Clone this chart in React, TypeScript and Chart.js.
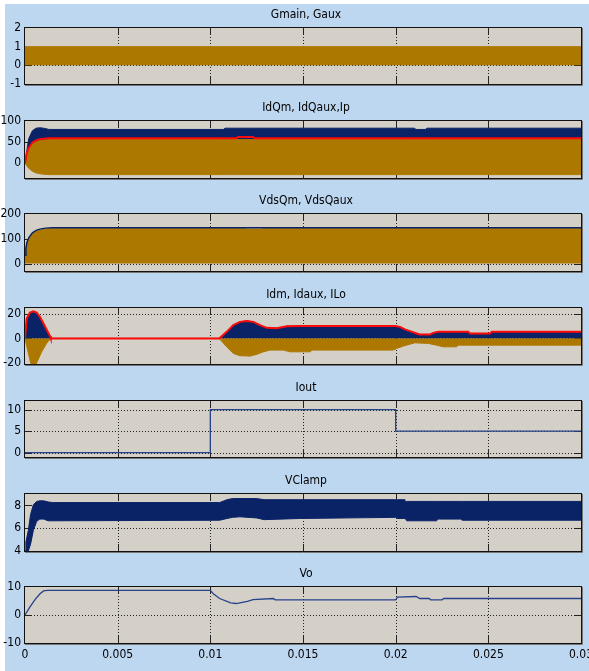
import React, { useEffect, useRef } from 'react';
import { Chart, registerables } from 'chart.js';
Chart.register(...registerables);

// ---------------- data ----------------
const xTicks = [0, 0.005, 0.01, 0.015, 0.02, 0.025, 0.03];
const xTickLabels = ['0', '0.005', '0.01', '0.015', '0.02', '0.025', '0.03'];
const panelTitles = ['Gmain, Gaux', 'IdQm, IdQaux,Ip', 'VdsQm, VdsQaux', 'Idm, Idaux, ILo', 'Iout', 'VClamp', 'Vo'];

// y tick labels per panel
const gTicks = [-1, 0, 1, 2];
const idqTicks = [0, 50, 100];
const vdsTicks = [0, 100, 200];
const idTicks = [-20, 0, 20];
const ioutTicks = [0, 5, 10];
const vclampTicks = [4, 6, 8];
const voTicks = [-10, 0, 10];

// Gmain, Gaux (switching band envelope)
const tG = [0, 0.03];
const gUpper = [1, 1];

// IdQm, IdQaux, Ip
const tIdq = [0, 0.0001, 0.0002, 0.0004, 0.0006, 0.0008, 0.001, 0.0013, 0.0107, 0.0108, 0.0114, 0.0115, 0.0123, 0.0124, 0.021, 0.0211, 0.0216, 0.0217, 0.03];
const idqmTop = [0, 30, 58, 77, 83, 84, 83, 80, 80, 83, 83, 83, 83, 83, 83, 80, 80, 83, 83];
const ipLine = [0, 25, 36, 49, 54, 57, 58, 59, 59, 59, 59, 62, 62, 59, 59, 59, 59, 59, 59];
const idqauxTop = [0, 22, 33, 46, 51, 54, 55, 56, 56, 56, 56, 56, 56, 56, 56, 56, 56, 56, 56];
const idqauxBot = [0, -6, -12, -19, -23, -25, -26, -27, -27, -27, -27, -27, -27, -27, -27, -27, -27, -27, -27];

// VdsQm, VdsQaux
const tVds = [0, 0.00005, 0.0001, 0.0002, 0.0004, 0.0006, 0.0008, 0.0011, 0.0015, 0.0119, 0.01191, 0.0128, 0.01281, 0.03];
const vdsQm = [34, 62, 84, 104, 124, 134, 139, 143, 145, 145, 145, 145, 145, 145];
const vdsQauxTop = [30, 58, 80, 100, 120, 130, 135, 139, 142, 142, 139, 139, 142, 142];

// Idm, Idaux, ILo
const tIdm = [0, 0.00009, 0.00027, 0.00045, 0.00063, 0.00081, 0.00099, 0.00117, 0.00135, 0.00139, 0.01048, 0.01088, 0.01124, 0.0116, 0.01196, 0.01232, 0.01268, 0.01304, 0.01358, 0.01412, 0.01484, 0.01996, 0.02023, 0.0205, 0.02077, 0.02114, 0.02131, 0.02185, 0.02203, 0.0223, 0.02392, 0.02401, 0.02509, 0.02518, 0.03];
const idmTop = [0, 16.3, 21.2, 22.3, 21.2, 17.6, 12.4, 7.1, 1.9, 0, 0, 5.4, 10.9, 13.6, 14.4, 13.6, 10.9, 8.7, 8.4, 10, 10.3, 10.3, 9.5, 7.4, 6, 4.1, 3.3, 3.3, 4.6, 5.4, 5.4, 4.1, 4.1, 5.4, 5.4];
const iLo = idmTop;
const tIdaux = [0, 0.00009, 0.00018, 0.0003, 0.00045, 0.0006, 0.00075, 0.0009, 0.00117, 0.00135, 0.00139, 0.01048, 0.01088, 0.01124, 0.0116, 0.01214, 0.0125, 0.01286, 0.01322, 0.01394, 0.0143, 0.0154, 0.01547, 0.01987, 0.02005, 0.02041, 0.02077, 0.02104, 0.02176, 0.0222, 0.02257, 0.02329, 0.02338, 0.03];
const idauxBot = [0, -6, -12, -20, -24, -21, -16, -11, -4, -0.5, 0, 0, -6.9, -12.3, -14.2, -14.5, -13.1, -11, -9.6, -9.6, -11, -11, -9.6, -9.6, -8.2, -6.3, -4.7, -3.6, -4.1, -5.5, -6.9, -6.9, -5.5, -5.5];

// Iout
const tIout = [0, 0.01, 0.01, 0.02, 0.02, 0.03];
const iout = [0, 0, 10, 10, 5, 5];

// VClamp (ripple band envelope)
const tVc = [0, 0.00005, 0.00018, 0.0003, 0.00045, 0.00063, 0.0008, 0.001, 0.00126, 0.0015, 0.0105, 0.0109, 0.0112, 0.0116, 0.0125, 0.0129, 0.0148, 0.02, 0.0201, 0.0205, 0.02051, 0.0206, 0.0222, 0.0223, 0.0235, 0.0236, 0.03];
const vcTop = [4, 4.8, 5.8, 7.2, 8.05, 8.35, 8.4, 8.4, 8.3, 8.25, 8.25, 8.5, 8.6, 8.6, 8.6, 8.5, 8.5, 8.5, 8.5, 8.5, 8.35, 8.35, 8.35, 8.35, 8.35, 8.35, 8.35];
const vcBot = [4, 4, 4, 4.6, 5.8, 6.6, 6.8, 6.8, 6.65, 6.65, 6.7, 6.85, 6.95, 7.0, 6.9, 6.75, 6.85, 6.95, 6.85, 6.85, 6.85, 6.65, 6.65, 6.8, 6.8, 6.7, 6.7];

// Vo
const tVo = [0, 0.00027, 0.00054, 0.00081, 0.001, 0.0012, 0.01, 0.01016, 0.0105, 0.0111, 0.0114, 0.012, 0.0123, 0.0134, 0.0135, 0.02, 0.0201, 0.0211, 0.0213, 0.0218, 0.0219, 0.0225, 0.0226, 0.03];
const vo = [0, 2.9, 5.5, 7.6, 8.6, 8.8, 8.8, 7.6, 5.9, 4.3, 4.1, 4.9, 5.5, 5.9, 5.4, 5.4, 6.4, 6.6, 5.9, 5.9, 5.4, 5.4, 5.9, 5.9];

// ---------------- styles ----------------
const BROWN = '#ad7800';
const NAVY = '#0a2366';
const RED = '#ff0a0a';
const LINE_BLUE = '#26428a';
const PLOT_BG = '#d4d0c8';
const OUTER = '#bdd7f1';
const FONT = "'Liberation Sans Narrow', 'DejaVu Sans Condensed', 'Liberation Sans', sans-serif";
const W = 589;
const H = 671;

const pts = (t: number[], v: number[]) => t.map((x, i) => ({ x, y: v[i] }));
const fillDs = (t: number[], v: number[], color: string, fill: any) => ({
  data: pts(t, v), borderColor: color, backgroundColor: color, borderWidth: 1, fill, pointRadius: 0, tension: 0,
});
const lineDs = (t: number[], v: number[], color: string, width: number) => ({
  data: pts(t, v), borderColor: color, backgroundColor: color, borderWidth: width, fill: false, pointRadius: 0, tension: 0,
});

const panels = [
  { title: panelTitles[0], top: 28, bottom: 84, yMin: -1, yMax: 2, yTicks: gTicks,
    datasets: () => [fillDs(tG, gUpper, BROWN, 'origin')] },
  { title: panelTitles[1], top: 121, bottom: 178, yMin: -35, yMax: 100, yTicks: idqTicks,
    datasets: () => [lineDs(tIdq, ipLine, RED, 2), fillDs(tIdq, idqauxTop, BROWN, '+1'), fillDs(tIdq, idqauxBot, BROWN, false), fillDs(tIdq, idqmTop, NAVY, 'origin')] },
  { title: panelTitles[2], top: 214, bottom: 271, yMin: -30, yMax: 200, yTicks: vdsTicks,
    datasets: () => [lineDs(tVds, vdsQm, NAVY, 1.5), fillDs(tVds, vdsQauxTop, BROWN, 'origin')] },
  { title: panelTitles[3], top: 308, bottom: 364, yMin: -21, yMax: 25, yTicks: idTicks,
    datasets: () => [lineDs(tIdm, iLo, RED, 2), fillDs(tIdaux, idauxBot, BROWN, 'origin'), fillDs(tIdm, idmTop, NAVY, 'origin')] },
  { title: panelTitles[4], top: 401, bottom: 457, yMin: -1, yMax: 12, yTicks: ioutTicks,
    datasets: () => [lineDs(tIout, iout, LINE_BLUE, 1.3)] },
  { title: panelTitles[5], top: 494, bottom: 551, yMin: 4, yMax: 9, yTicks: vclampTicks,
    datasets: () => [fillDs(tVc, vcTop, NAVY, '+1'), fillDs(tVc, vcBot, NAVY, false)] },
  { title: panelTitles[6], top: 587, bottom: 643, yMin: -10, yMax: 10, yTicks: voTicks,
    datasets: () => [lineDs(tVo, vo, LINE_BLUE, 1.3)] },
];

const TICK_LEN = 7;

const scopePlugin = {
  id: 'scope',
  beforeDraw(chart: any) {
    const { ctx, chartArea: a } = chart;
    ctx.save();
    ctx.fillStyle = PLOT_BG;
    ctx.fillRect(a.left, a.top, a.right - a.left, a.bottom - a.top);
    ctx.restore();
  },
  beforeDatasetsDraw(chart: any, _args: any, opts: any) {
    const { ctx, chartArea: a, scales } = chart;
    const x = scales.x, y = scales.y;
    ctx.save();
    ctx.strokeStyle = '#222';
    ctx.lineWidth = 1;
    const seg = (x1: number, y1: number, x2: number, y2: number) => {
      ctx.beginPath(); ctx.moveTo(x1, y1); ctx.lineTo(x2, y2); ctx.stroke();
    };
    const xs = xTicks.map((v) => Math.round(x.getPixelForValue(v)) + 0.5).filter((p) => p > a.left + 1 && p < a.right - 1);
    const ys = (opts.yTicks as number[]).map((v) => Math.round(y.getPixelForValue(v)) + 0.5).filter((p) => p > a.top + 1 && p < a.bottom - 1);
    ctx.setLineDash([1, 2]);
    xs.forEach((p) => seg(p, a.top, p, a.bottom));
    ys.forEach((p) => seg(a.left, p, a.right, p));
    ctx.setLineDash([]);
    xs.forEach((p) => { seg(p, a.top, p, a.top + TICK_LEN); seg(p, a.bottom, p, a.bottom - TICK_LEN); });
    ys.forEach((p) => { seg(a.left, p, a.left + TICK_LEN, p); seg(a.right, p, a.right - TICK_LEN, p); });
    ctx.restore();
  },
  afterDatasetsDraw(chart: any, _args: any, opts: any) {
    const { ctx, chartArea: a } = chart;
    ctx.save();
    ctx.strokeStyle = '#777';
    ctx.lineWidth = 1;
    ctx.beginPath();
    ctx.moveTo(a.right + 1.5, a.top);
    ctx.lineTo(a.right + 1.5, a.bottom + 1.5);
    ctx.lineTo(a.left, a.bottom + 1.5);
    ctx.stroke();
    ctx.strokeStyle = '#111';
    ctx.strokeRect(a.left - 0.5, a.top - 0.5, a.right - a.left + 1, a.bottom - a.top + 1);
    ctx.fillStyle = '#000';
    ctx.font = `12px ${FONT}`;
    ctx.textAlign = 'center';
    ctx.textBaseline = 'middle';
    ctx.fillText(opts.title, (a.left + a.right) / 2 + 3, a.top - 13);
    ctx.restore();
  },
};

function makeConfig(p: any, isLast: boolean): any {
  return {
    type: 'line',
    data: { datasets: p.datasets() },
    options: {
      responsive: false,
      animation: false,
      devicePixelRatio: 1,
      events: [],
      layout: { padding: { top: p.top, bottom: isLast ? H - p.bottom - 20 : H - p.bottom, left: 0, right: 8 } },
      plugins: {
        legend: { display: false },
        tooltip: { enabled: false },
        title: { display: false },
        scope: { title: p.title, yTicks: p.yTicks },
      },
      scales: {
        x: {
          type: 'linear', min: 0, max: 0.03,
          grid: { display: false }, border: { display: false },
          ticks: {
            display: isLast, autoSkip: false, maxRotation: 0, minRotation: 0, padding: -3,
            color: '#000', font: { family: FONT, size: 12 },
            callback: (_v: any, i: number) => xTickLabels[i],
          },
          afterBuildTicks: (s: any) => { s.ticks = xTicks.map((v) => ({ value: v })); },
          afterFit: (s: any) => { s.height = isLast ? 20 : 0; s.paddingLeft = 0; s.paddingRight = 0; },
        },
        y: {
          type: 'linear', min: p.yMin, max: p.yMax,
          grid: { display: false, drawTicks: false }, border: { display: false },
          ticks: {
            padding: 4, color: '#000', font: { family: FONT, size: 12 },
            callback: (v: any) => String(v),
          },
          afterBuildTicks: (s: any) => { s.ticks = (p.yTicks as number[]).map((v) => ({ value: v })); },
          afterFit: (s: any) => { s.width = 25; s.paddingTop = 0; s.paddingBottom = 0; },
        },
      },
    },
    plugins: [scopePlugin],
  };
}

export default function App() {
  const refs = useRef<(HTMLCanvasElement | null)[]>([]);
  useEffect(() => {
    const charts = panels.map((p, i) => new Chart(refs.current[i] as HTMLCanvasElement, makeConfig(p, i === panels.length - 1)));
    return () => charts.forEach((c) => c.destroy());
  }, []);
  return (
    <div style={{ position: 'fixed', left: 0, top: 0, width: W, height: H, background: '#fff', overflow: 'hidden' }}>
      <div style={{ position: 'absolute', left: 5, top: 4, width: W - 5, height: H - 4, background: OUTER }} />
      {panels.map((p, i) => (
        <canvas
          key={p.title}
          ref={(el) => { refs.current[i] = el; }}
          width={W}
          height={H}
          style={{ position: 'absolute', left: 0, top: 0, width: W, height: H, display: 'block' }}
        />
      ))}
    </div>
  );
}
